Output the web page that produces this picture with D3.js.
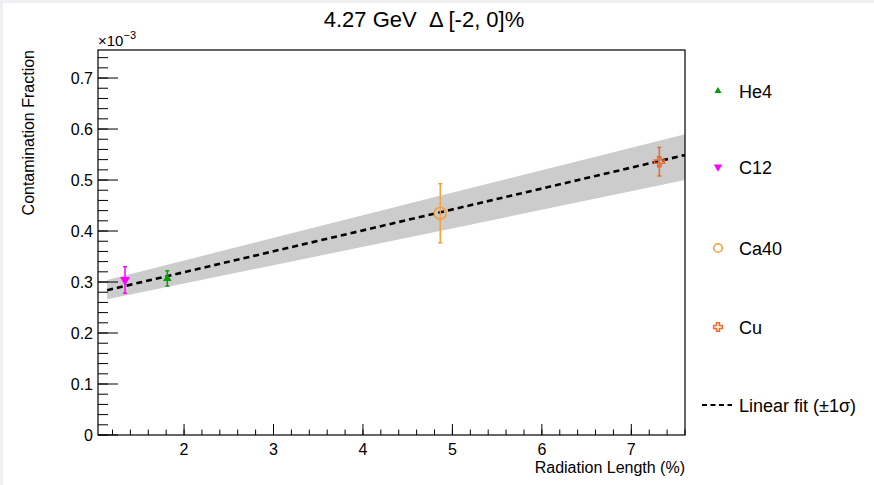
<!DOCTYPE html>
<html>
<head>
<meta charset="utf-8">
<script src="https://cdn.jsdelivr.net/npm/d3@7"></script>
<style>
  body { margin: 0; background: #fff; }
  text { font-family: "Liberation Sans", Arial, Helvetica, sans-serif; fill: #000; }
</style>
</head>
<body>
<div id="chart"></div>
<script>
// targets, radiation length (%) vs contamination fraction (x10^-3)
var targets = ["He4", "C12", "Ca40", "Cu"],
    radLen = [1.813, 1.34, 4.864, 7.313],
    contam = [0.307, 0.304, 0.435, 0.536],
    contamErr = [0.015, 0.026, 0.058, 0.028],
    colors = ["#0a9a0a", "#ff00ff", "#f5a03c", "#ec6a2c"];

// linear fit and its 1 sigma band
var fitX = [1.14, 7.6],
    fitY = [0.284, 0.549],
    bandX = [1.14, 4.86, 7.6],
    bandHi = [0.304, 0.469, 0.590],
    bandLo = [0.266, 0.400, 0.500];

var xTicks = [2, 3, 4, 5, 6, 7],
    yTicks = [0, 0.1, 0.2, 0.3, 0.4, 0.5, 0.6, 0.7];

var width = 874, height = 485,
    margin = {top: 50, right: 189, bottom: 50, left: 98};

var svg = d3.select("#chart").append("svg")
    .attr("width", width)
    .attr("height", height);

svg.append("rect").attr("x", 0).attr("y", 0).attr("width", width).attr("height", 3).attr("fill", "#eef0f3");
svg.append("rect").attr("x", 0).attr("y", 0).attr("width", 3).attr("height", height).attr("fill", "#eef0f3");

var w = width - margin.left - margin.right,
    h = height - margin.top - margin.bottom;

var x = d3.scaleLinear().domain([1.038, 7.6]).range([0, w]),
    y = d3.scaleLinear().domain([0, 0.755]).range([h, 0]);

var g = svg.append("g").attr("transform", "translate(" + margin.left + "," + margin.top + ")");

g.append("clipPath").attr("id", "clip")
  .append("rect").attr("width", w).attr("height", h);

var plot = g.append("g").attr("clip-path", "url(#clip)");

// band
var band = d3.area()
    .x(function(d, i) { return x(d); })
    .y0(function(d, i) { return y(bandLo[i]); })
    .y1(function(d, i) { return y(bandHi[i]); });
plot.append("path").datum(bandX)
    .attr("d", band)
    .attr("fill", "#cccccc");

// fit line
plot.append("path").datum(fitX)
    .attr("d", d3.line().x(function(d) { return x(d); }).y(function(d, i) { return y(fitY[i]); }))
    .attr("fill", "none")
    .attr("stroke", "#000")
    .attr("stroke-width", 2.6)
    .attr("stroke-dasharray", "6,4");

// ticks, drawn inside the frame
var xMinor = d3.range(1.2, 7.61, 0.2), yMinor = d3.range(0, 0.751, 0.02);

g.selectAll(".xminor").data(xMinor).enter().append("line")
    .attr("x1", function(d) { return x(d); }).attr("x2", function(d) { return x(d); })
    .attr("y1", h).attr("y2", h - 5.5)
    .attr("stroke", "#000");
g.selectAll(".xmajor").data(xTicks).enter().append("line")
    .attr("x1", function(d) { return x(d); }).attr("x2", function(d) { return x(d); })
    .attr("y1", h).attr("y2", h - 11)
    .attr("stroke", "#000");
g.selectAll(".yminor").data(yMinor).enter().append("line")
    .attr("x1", 0).attr("x2", 10)
    .attr("y1", function(d) { return y(d); }).attr("y2", function(d) { return y(d); })
    .attr("stroke", "#000");
g.selectAll(".ymajor").data(yTicks).enter().append("line")
    .attr("x1", 0).attr("x2", 20)
    .attr("y1", function(d) { return y(d); }).attr("y2", function(d) { return y(d); })
    .attr("stroke", "#000");

g.selectAll(".xlab").data(xTicks).enter().append("text")
    .attr("x", function(d) { return x(d); })
    .attr("y", h + 20)
    .attr("text-anchor", "middle")
    .style("font-size", "16px")
    .text(function(d) { return d; });
g.selectAll(".ylab").data(yTicks).enter().append("text")
    .attr("x", -5)
    .attr("y", function(d) { return y(d) + 5.5; })
    .attr("text-anchor", "end")
    .style("font-size", "16px")
    .text(function(d) { return d === 0 ? "0" : d3.format(".1f")(d); });

// frame
g.append("rect")
    .attr("width", w).attr("height", h)
    .attr("fill", "none")
    .attr("stroke", "#000")
    .attr("stroke-width", 1.2);

// exponent
var ex = g.append("text").attr("x", 0).attr("y", -4).style("font-size", "15px");
ex.append("tspan").text("\u00d710");
ex.append("tspan").attr("dy", -7).style("font-size", "11px").text("\u22123");

// points with error bars
var pts = g.selectAll(".pt").data(targets).enter().append("g")
    .attr("transform", function(d, i) { return "translate(" + x(radLen[i]) + "," + y(contam[i]) + ")"; });

pts.append("line")
    .attr("y1", function(d, i) { return y(contam[i] + contamErr[i]) - y(contam[i]); })
    .attr("y2", function(d, i) { return y(contam[i] - contamErr[i]) - y(contam[i]); })
    .attr("stroke", function(d, i) { return colors[i]; })
    .attr("stroke-width", 1.5);
pts.each(function(d, i) {
  var s = d3.select(this), e = y(contam[i] - contamErr[i]) - y(contam[i]);
  [e, -e].forEach(function(v) {
    s.append("line").attr("x1", -2).attr("x2", 2).attr("y1", v).attr("y2", v)
      .attr("stroke", colors[i]).attr("stroke-width", 1.5);
  });
});

function marker(sel, i, big) {
  var k = big ? 1.2 : 0.85;
  if (i === 0) sel.append("path").attr("d", d3.symbol(d3.symbolTriangle, 26 * k)()).attr("fill", colors[i]);
  if (i === 1) sel.append("path").attr("d", d3.symbol(d3.symbolTriangle, 36 * k)()).attr("transform", "rotate(180)").attr("fill", colors[i]);
  if (i === 2) sel.append("circle").attr("r", big ? 6 : 4.3).attr("fill", "none").attr("stroke", colors[i]).attr("stroke-width", 1.6);
  if (i === 3) sel.append("path").attr("d", d3.symbol(d3.symbolCross, big ? 55 : 42)()).attr("fill", big ? "none" : "#fff").attr("stroke", colors[i]).attr("stroke-width", 1.5);
}
pts.each(function(d, i) { marker(d3.select(this), i, true); });

// legend
var legY = [91, 167, 248, 327];
var leg = svg.selectAll(".leg").data(targets).enter().append("g")
    .attr("transform", function(d, i) { return "translate(718," + legY[i] + ")"; });
leg.each(function(d, i) { marker(d3.select(this), i, false); });
leg.append("text")
    .attr("x", 21).attr("y", 6.5)
    .style("font-size", "18px")
    .text(function(d) { return d; });

svg.append("line")
    .attr("x1", 702).attr("x2", 732).attr("y1", 405).attr("y2", 405)
    .attr("stroke", "#000").attr("stroke-width", 2).attr("stroke-dasharray", "5,3.5");
svg.append("text")
    .attr("x", 739).attr("y", 411.5)
    .style("font-size", "18px")
    .text("Linear fit (\u00b11\u03c3)");

// titles
svg.append("text")
    .attr("x", 424).attr("y", 27)
    .attr("text-anchor", "middle")
    .style("font-size", "22px")
    .attr("xml:space", "preserve")
    .style("white-space", "pre")
    .text("4.27 GeV  \u0394 [-2, 0]%");

svg.append("text")
    .attr("x", margin.left + w).attr("y", 473)
    .attr("text-anchor", "end")
    .style("font-size", "16px")
    .text("Radiation Length (%)");

svg.append("text")
    .attr("transform", "translate(34," + margin.top + ") rotate(-90)")
    .attr("text-anchor", "end")
    .style("font-size", "16px")
    .text("Contamination Fraction");
</script>
</body>
</html>
